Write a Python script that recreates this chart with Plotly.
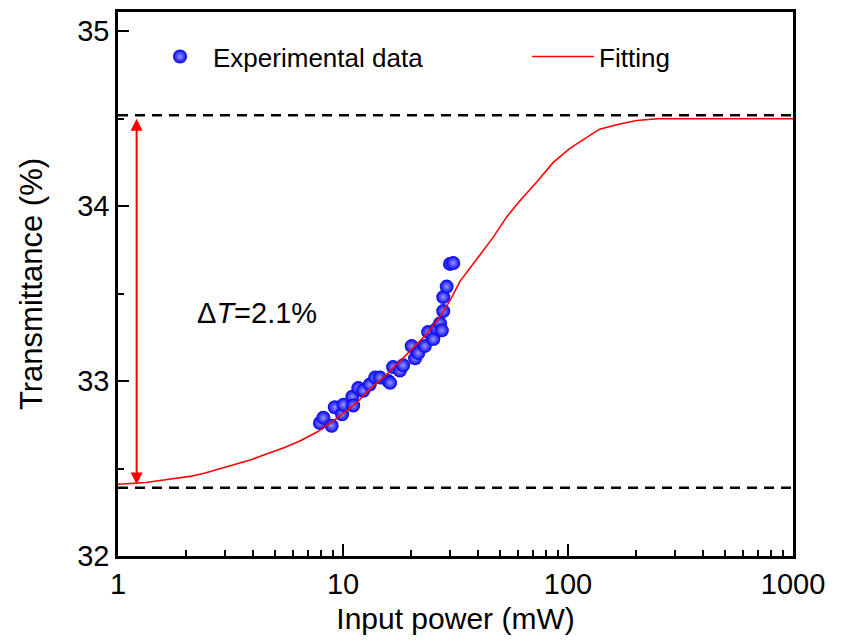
import math
import plotly.graph_objects as go

# Experimental data (input power in mW, transmittance in %)
exp_power = [7.9, 8.18, 8.9, 9.2, 9.9, 10.05, 11.0, 11.1, 11.7, 12.3, 13.15, 13.9, 14.6,
             15.9, 16.2, 16.7, 17.9, 18.5, 20.2, 20.9, 21.6, 23.1, 23.9, 25.2, 26.1,
             27.0, 27.5, 27.9, 27.9, 28.9, 29.9, 30.9]
exp_trans = [32.76, 32.79, 32.745, 32.85, 32.81, 32.865, 32.91, 32.86, 32.96, 32.945, 32.98, 33.02, 33.02,
             33.00, 32.99, 33.08, 33.06, 33.09, 33.20, 33.13, 33.16, 33.20, 33.28, 33.24, 33.30,
             33.33, 33.29, 33.40, 33.48, 33.54, 33.67, 33.675]

# Fitting curve
fit_power = [1, 1.33, 1.72, 2.09, 2.44, 2.78, 3.18, 3.9, 4.6, 5.5, 6.5, 7.7, 9.0, 11.6, 12.8,
             15.7, 19.8, 23.6, 27.0, 29.9, 33.1, 35.9, 41.8, 46.4, 53.5, 61, 72.8, 86, 102,
             117, 138, 170, 202, 250, 1000]
fit_trans = [32.41, 32.42, 32.44, 32.455, 32.475, 32.495, 32.515, 32.55, 32.585, 32.62, 32.66,
             32.71, 32.77, 32.88, 32.94, 33.04, 33.17, 33.27, 33.37, 33.46, 33.57, 33.63, 33.74,
             33.82, 33.94, 34.03, 34.14, 34.25, 34.33, 34.38, 34.44, 34.47, 34.49, 34.50, 34.50]

# Reference levels (dashed lines) and delta-T arrow
ref_levels = [34.52, 32.39]
arrow_x = 1.21
arrow_bottom = 32.40
arrow_top = 34.50

x_ticks = [1, 10, 100, 1000]
x_minor = [m * d for d in [1, 10, 100] for m in range(2, 10)]
y_ticks = [32, 33, 34, 35]

FONT = "Liberation Sans, Arial, sans-serif"

fig = go.Figure()

fig.add_trace(go.Scatter(
    x=exp_power, y=exp_trans, mode="markers", name="Experimental data",
    marker=dict(size=14, color="rgb(0,0,245)",
                gradient=dict(type="radial", color="rgb(150,150,255)"),
                line=dict(width=0)),
    legend="legend",
))
fig.add_trace(go.Scatter(
    x=fit_power, y=fit_trans, mode="lines", name="Fitting",
    line=dict(color="#ff0000", width=1.6),
    legend="legend2",
))

for lvl in ref_levels:
    fig.add_shape(type="line", xref="paper", yref="y", x0=0, x1=1, y0=lvl, y1=lvl,
                  line=dict(color="black", width=2.5, dash="10px,7px"), layer="above")

fig.add_annotation(
    x=math.log10(arrow_x), y=arrow_top, ax=math.log10(arrow_x), ay=arrow_bottom,
    xref="x", yref="y", axref="x", ayref="y", text="", showarrow=True,
    arrowside="end+start", arrowhead=2, arrowsize=1.2, arrowwidth=2,
    arrowcolor="#ff0000", standoff=0, startstandoff=0,
)

fig.add_annotation(
    x=0.114, y=0.446, xref="paper", yref="paper", xanchor="left", yanchor="middle",
    text="\u0394<i>T</i>=2.1%", showarrow=False,
    font=dict(family=FONT, size=29, color="black"),
)

fig.update_xaxes(
    type="log", range=[0, 3], tickvals=x_ticks, ticktext=[str(v) for v in x_ticks],
    ticks="inside", ticklen=12, tickwidth=2, tickcolor="black",
    minor=dict(tickvals=x_minor, ticks="inside", ticklen=6, tickwidth=2, tickcolor="black", showgrid=False),
    showline=True, linecolor="black", linewidth=2.5, mirror=True, showgrid=False, zeroline=False,
    tickfont=dict(family=FONT, size=29, color="black"),
    title=dict(text="Input power (mW)", font=dict(family=FONT, size=30, color="black"), standoff=10),
)
fig.update_yaxes(
    range=[32, 35.11], tickvals=y_ticks, ticktext=[str(v) for v in y_ticks],
    ticks="inside", ticklen=11, tickwidth=2, tickcolor="black",
    minor=dict(dtick=0.5, ticks="inside", ticklen=6, tickwidth=2, tickcolor="black", showgrid=False),
    showline=True, linecolor="black", linewidth=2.5, mirror=True, showgrid=False, zeroline=False,
    tickfont=dict(family=FONT, size=29, color="black"),
    title=dict(text="Transmittance (%)", font=dict(family=FONT, size=31, color="black"), standoff=26),
)

legend_style = dict(orientation="h", y=0.918, xanchor="left", yanchor="middle",
                    font=dict(family=FONT, size=26, color="black"),
                    bgcolor="rgba(0,0,0,0)", borderwidth=0)

fig.update_layout(
    width=841, height=641,
    margin=dict(l=110, r=56, t=1, b=93),
    paper_bgcolor="white", plot_bgcolor="white",
    showlegend=True,
    legend=dict(x=0.043, itemwidth=56, **legend_style),
    legend2=dict(x=0.606, itemwidth=62, **legend_style),
)

fig.write_html("out.html")
